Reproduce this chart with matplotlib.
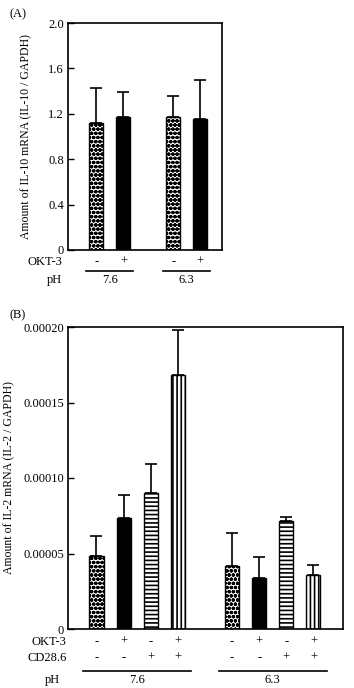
import matplotlib
matplotlib.use("Agg")
import matplotlib.pyplot as plt
import matplotlib.transforms as mtransforms
import numpy as np

plt.rcParams['font.family'] = ['Liberation Serif', 'DejaVu Serif']
plt.rcParams['hatch.linewidth'] = 1.2

# ---- Panel A data ----
a_pos = [0, 1, 2.83, 3.81]
a_vals = [1.116, 1.169, 1.169, 1.157]
a_err = [0.309, 0.220, 0.188, 0.343]
a_okt3 = ['-', '+', '-', '+']
a_groups = ['7.6', '6.3']
a_group_centers = [0.5, 3.32]
a_yticks = [0, 0.4, 0.8, 1.2, 1.6, 2.0]
a_yticklabels = ['0', '0.4', '0.8', '1.2', '1.6', '2.0']

# ---- Panel B data ----
b_pos = [0, 1, 2, 3, 5, 6, 7, 8]
b_vals = [4.85e-5, 7.38e-5, 8.99e-5, 16.8e-5, 4.20e-5, 3.41e-5, 7.18e-5, 3.57e-5]
b_err = [1.32e-5, 1.50e-5, 1.91e-5, 3.00e-5, 2.19e-5, 1.33e-5, 0.22e-5, 0.68e-5]
b_okt3 = ['-', '+', '-', '+', '-', '+', '-', '+']
b_cd28 = ['-', '-', '+', '+', '-', '-', '+', '+']
b_groups = ['7.6', '6.3']
b_group_centers = [1.5, 6.5]
b_yticks = [0, 5e-5, 10e-5, 15e-5, 20e-5]
b_yticklabels = ['0', '0.00005', '0.00010', '0.00015', '0.00020']

a_styles = [('white', 'oooo'), ('black', None)] * 2
b_styles = [('white', 'oooo'), ('black', None), ('white', '----'), ('white', '||||')] * 2

W, H = 354, 688
fig = plt.figure(figsize=(W / 100, H / 100), dpi=100)

def px_axes(l, t, r, b):
    return fig.add_axes([l / W, 1 - b / H, (r - l) / W, (b - t) / H])

axA = px_axes(68, 23, 222, 250)
axB = px_axes(68, 327, 343, 629)

FS = 9

def draw(ax, pos, vals, err, styles, width=0.52):
    for p, v, (fc, hatch) in zip(pos, vals, styles):
        ax.bar(p, v, width=width, color=fc, edgecolor='black', hatch=hatch,
               linewidth=1.0, zorder=2)
    ax.errorbar(pos, vals, yerr=[np.zeros(len(err)), err], fmt='none',
                ecolor='black', elinewidth=1.2, capsize=4.3, capthick=1.2, zorder=3)
    for s in ax.spines.values():
        s.set_linewidth(1.2)
    ax.set_xticks([])
    ax.tick_params(axis='y', direction='in', length=4, width=1.0, labelsize=FS, pad=3)

draw(axA, a_pos, a_vals, a_err, a_styles)
axA.set_xlim(-1.04, 4.63)
axA.set_ylim(0, 2.0)
axA.set_yticks(a_yticks)
axA.set_yticklabels(a_yticklabels)
axA.set_ylabel('Amount of IL-10 mRNA (IL-10 / GAPDH)', fontsize=8.5)
axA.yaxis.set_label_coords(-0.234, 0.5)

draw(axB, b_pos, b_vals, b_err, b_styles)
axB.set_xlim(-1.05, 9.09)
axB.set_ylim(0, 2.0e-4)
axB.set_yticks(b_yticks)
axB.set_yticklabels(b_yticklabels)
axB.set_ylabel('Amount of IL-2 mRNA (IL-2 / GAPDH)', fontsize=8.5)
axB.yaxis.set_label_coords(-0.193, 0.5)

def row(ax, pos, signs, y, label, label_x):
    tr = mtransforms.blended_transform_factory(ax.transData, ax.transAxes)
    for p, s in zip(pos, signs):
        ax.text(p, y, s, transform=tr, ha='center', va='center', fontsize=FS, clip_on=False)
    ax.text(label_x, y, label, transform=ax.transAxes, ha='right', va='center', fontsize=FS)

def groups(ax, centers, names, half, yline, ytext, label_x):
    tr = mtransforms.blended_transform_factory(ax.transData, ax.transAxes)
    for c, n in zip(centers, names):
        ax.plot([c - half, c + half], [yline, yline], color='black', lw=1.2,
                transform=tr, clip_on=False)
        ax.text(c, ytext, n, transform=tr, ha='center', va='center', fontsize=FS)
    ax.text(label_x, ytext, 'pH', transform=ax.transAxes, ha='right', va='center', fontsize=FS)

row(axA, a_pos, a_okt3, -0.053, 'OKT-3', -0.039)
groups(axA, a_group_centers, a_groups, 0.87, -0.0925, -0.132, -0.039)

row(axB, b_pos, b_okt3, -0.043, 'OKT-3', -0.007)
row(axB, b_pos, b_cd28, -0.096, 'CD28.6', -0.004)
groups(axB, b_group_centers, b_groups, 2.0, -0.139, -0.169, -0.03)

fig.text(10 / W, 1 - 14 / H, '(A)', fontsize=FS, ha='left', va='center')
fig.text(10 / W, 1 - 315 / H, '(B)', fontsize=FS, ha='left', va='center')

fig.savefig('out.png', dpi=100)
